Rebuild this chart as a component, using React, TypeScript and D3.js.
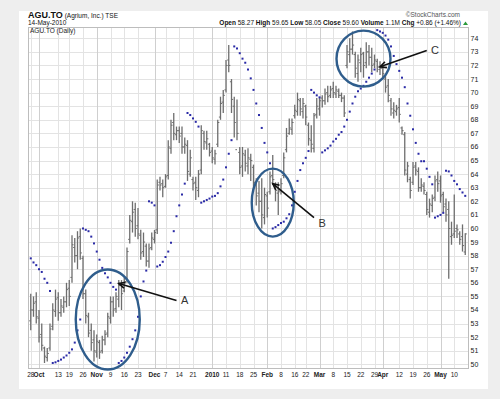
import * as d3 from "d3";

// trading calendar (TSX), Sep 28 2009 .. May 14 2010
const HOLIDAYS = ["2009-10-12", "2009-12-25", "2009-12-28", "2010-01-01", "2010-02-15", "2010-04-02"];
const fmtDay = d3.utcFormat("%Y-%m-%d");
const DAYS: string[] = d3.utcDay
  .range(new Date(Date.UTC(2009, 8, 28)), new Date(Date.UTC(2010, 4, 15)))
  .filter((d) => d.getUTCDay() !== 0 && d.getUTCDay() !== 6)
  .map(fmtDay)
  .filter((s) => !HOLIDAYS.includes(s));

const OPEN = [
  53.2, 54.0, 54.6, 53.4, 52.2, 51.2, 50.5, 51.2, 52.8, 53.9, 54.9, 53.8, 54.2, 54.6, 55.6, 56.4, 58.6, 58.0, 59.4, 57.8,
  55.2, 53.5, 52.5, 51.8, 50.9, 51.6, 51.0, 51.8, 52.3, 53.4, 54.6, 54.1, 54.8, 55.9, 55.4, 56.3, 59.2, 60.5, 61.4, 60.2,
  59.5, 58.3, 58.7, 57.6, 58.6, 59.2, 59.9, 63.4, 63.3, 63.1, 63.9, 65.9, 67.8, 66.9, 67.2, 67.0, 66.0, 66.1, 64.0, 63.6,
  63.4, 62.8, 64.3, 67.0, 66.3, 66.2, 65.7, 65.1, 66.2, 68.2, 69.3, 70.2, 72.4, 70.8, 69.0, 65.8, 65.6, 64.6, 65.4, 64.6,
  65.1, 64.5, 63.4, 62.6, 62.0, 60.8, 62.4, 62.7, 63.9, 63.2, 62.6, 62.8, 63.9, 65.8, 67.0, 67.3, 68.3, 68.6, 69.4, 68.6,
  69.0, 67.6, 66.5, 65.9, 68.4, 68.8, 69.6, 69.4, 70.0, 69.8, 70.3, 69.9, 70.1, 69.8, 69.6, 72.0, 72.8, 73.2, 72.8, 71.4,
  72.2, 72.9, 72.2, 73.0, 72.6, 72.1, 72.3, 71.7, 71.8, 71.0, 70.5, 69.4, 68.5, 68.6, 68.9, 67.4, 66.9, 64.0, 63.6, 63.4,
  64.6, 64.2, 63.0, 63.1, 62.5, 61.2, 61.7, 62.3, 63.6, 63.5, 62.5, 61.8, 61.4, 59.4, 59.6, 60.0, 59.6, 59.4, 58.27,
];
const HIGH = [
  55.2, 55.0, 55.3, 54.0, 53.0, 51.3, 51.2, 53.0, 54.5, 55.5, 55.3, 54.8, 55.0, 56.0, 56.2, 59.5, 59.3, 59.8, 60.0, 58.0,
  55.5, 53.8, 53.0, 52.5, 52.2, 51.8, 52.1, 52.5, 53.8, 55.0, 55.0, 55.3, 56.2, 56.2, 56.4, 58.6, 61.0, 62.0, 61.9, 61.5,
  59.9, 59.7, 58.9, 58.9, 59.7, 59.9, 63.6, 63.8, 63.6, 64.0, 66.5, 68.0, 68.5, 67.5, 67.5, 67.5, 66.7, 66.5, 65.8, 63.8,
  63.8, 64.3, 67.6, 67.2, 67.2, 66.3, 66.0, 65.8, 68.0, 69.7, 70.2, 72.4, 73.5, 71.0, 69.7, 69.5, 66.0, 66.0, 65.8, 65.9,
  65.5, 64.7, 63.7, 63.5, 63.7, 63.0, 62.7, 64.2, 65.4, 63.4, 63.4, 63.7, 65.6, 67.4, 68.1, 68.1, 69.1, 70.0, 69.6, 69.6,
  69.1, 67.8, 67.6, 68.5, 69.6, 69.6, 69.8, 70.3, 70.5, 70.5, 70.8, 70.5, 70.3, 70.0, 69.8, 73.5, 74.0, 74.5, 73.0, 72.8,
  73.3, 73.0, 73.7, 73.5, 73.3, 72.8, 72.5, 72.3, 72.0, 71.3, 71.0, 69.6, 69.3, 69.1, 69.6, 67.5, 67.1, 64.9, 63.8, 64.9,
  64.9, 64.5, 63.7, 63.4, 62.7, 62.2, 62.5, 63.9, 64.2, 63.9, 62.7, 62.2, 62.0, 60.5, 62.5, 60.3, 59.8, 60.3, 59.65,
];
const LOW = [
  52.5, 53.5, 53.0, 51.6, 51.0, 50.1, 50.2, 51.0, 52.5, 53.5, 53.2, 53.5, 53.8, 54.2, 54.3, 56.0, 57.5, 57.0, 57.7, 54.8,
  53.0, 52.0, 51.0, 50.2, 50.5, 50.4, 50.8, 51.4, 52.0, 53.0, 53.5, 53.8, 54.2, 54.0, 55.3, 56.0, 58.9, 59.7, 59.4, 59.2,
  57.7, 57.9, 57.2, 57.1, 58.4, 58.9, 59.6, 62.8, 62.3, 63.0, 63.6, 65.5, 66.5, 66.5, 66.3, 65.5, 65.5, 63.5, 63.8, 62.8,
  62.1, 62.3, 64.0, 65.8, 65.8, 65.3, 64.8, 64.7, 66.0, 68.0, 68.5, 70.0, 71.5, 68.5, 66.7, 66.5, 64.0, 63.8, 64.2, 64.0,
  63.5, 62.7, 61.7, 61.2, 60.0, 60.3, 60.8, 62.5, 63.2, 62.0, 61.0, 62.5, 63.7, 65.6, 66.9, 66.9, 68.1, 68.3, 68.3, 68.1,
  67.6, 66.1, 65.6, 65.6, 68.1, 68.3, 68.9, 69.1, 69.3, 69.6, 69.6, 69.6, 69.6, 69.3, 68.2, 71.8, 72.2, 72.8, 71.1, 70.8,
  71.5, 71.1, 71.8, 72.0, 71.5, 71.8, 71.5, 71.3, 71.1, 70.0, 69.3, 68.3, 68.1, 68.3, 67.8, 66.9, 63.9, 63.4, 62.2, 63.2,
  63.9, 62.7, 62.7, 62.5, 61.0, 60.8, 61.2, 62.0, 62.7, 61.9, 61.2, 60.5, 56.3, 58.8, 59.3, 59.3, 58.8, 58.3, 58.05,
];
const CLOSE = [
  54.0, 54.5, 53.5, 52.0, 51.4, 50.6, 50.8, 52.6, 54.0, 54.8, 53.8, 54.3, 54.6, 55.5, 55.0, 58.8, 58.0, 59.3, 58.2, 55.2,
  53.6, 52.3, 51.6, 51.0, 51.7, 50.9, 51.8, 52.2, 53.5, 54.6, 54.0, 55.0, 55.8, 55.2, 56.1, 58.3, 60.6, 61.2, 60.0, 59.6,
  58.2, 59.0, 57.6, 58.5, 59.3, 59.7, 63.2, 63.2, 63.0, 63.8, 66.0, 67.6, 67.0, 67.2, 66.8, 66.0, 66.2, 64.2, 65.2, 63.3,
  63.0, 64.0, 67.2, 66.4, 66.6, 65.6, 65.2, 65.5, 67.8, 69.2, 69.8, 72.0, 72.0, 69.5, 67.8, 67.0, 64.5, 65.5, 64.8, 65.2,
  65.0, 63.4, 62.4, 62.0, 61.0, 62.5, 61.5, 63.8, 63.6, 62.8, 62.7, 63.3, 65.2, 66.8, 67.4, 67.8, 68.7, 69.5, 68.8, 69.2,
  68.2, 66.6, 66.2, 68.3, 69.0, 69.4, 69.4, 69.9, 69.7, 70.2, 70.0, 70.2, 69.8, 69.6, 68.5, 73.0, 73.2, 73.5, 71.8, 72.4,
  72.8, 72.0, 73.0, 72.6, 72.0, 72.4, 71.9, 71.8, 71.4, 70.4, 69.8, 68.8, 68.7, 68.8, 68.4, 67.2, 64.3, 64.6, 62.8, 64.5,
  64.3, 63.0, 63.2, 62.8, 61.4, 61.8, 62.2, 63.5, 63.3, 62.4, 61.6, 61.0, 60.0, 59.5, 59.8, 59.9, 59.2, 58.74, 59.6,
];
// parabolic SAR dots
const SAR = [
  57.8, 57.5, 57.3, 57.0, 56.8, 56.3, 56.0, 55.4, 50.1, 50.15, 50.25, 50.35, 50.5, 50.65, 50.85, 51.1, 51.6, 52.5, 53.3, 60.0,
  59.9, 59.8, 59.4, 58.9, 58.3, 57.7, 57.1, 56.7, 56.4, 56.0, 55.7, 55.5, 50.1, 50.25, 50.5, 50.85, 51.3, 51.85, 52.5, 53.5,
  55.0, 56.1, 56.9, 62.0, 61.9, 61.7, 57.2, 57.3, 57.55, 57.9, 58.3, 58.95, 59.8, 60.9, 61.7, 62.5, 63.3, 68.5, 68.35, 68.1,
  67.85, 67.5, 61.9, 62.0, 62.1, 62.2, 62.35, 62.4, 62.6, 63.1, 63.6, 64.5, 65.5, 66.5, 73.4, 73.25, 72.9, 72.5, 72.2, 71.7,
  71.05, 70.2, 69.2, 68.35, 67.4, 66.3, 65.6, 64.8, 60.0, 60.1, 60.25, 60.4, 60.5, 60.75, 61.05, 61.7, 62.7, 63.5, 64.3, 64.8,
  65.2, 65.7, 70.2, 70.0, 69.8, 69.65, 65.6, 65.75, 65.9, 66.1, 66.4, 66.6, 66.9, 67.1, 67.5, 68.0, 68.6, 69.2, 69.7, 70.1,
  70.3, 70.5, 70.8, 71.1, 71.4, 71.7, 74.6, 74.5, 74.4, 74.2, 73.9, 73.4, 72.7, 72.1, 71.6, 71.1, 70.4, 69.2, 68.3, 67.3,
  66.3, 65.5, 64.95, 64.95, 64.4, 63.8, 63.25, 60.8, 60.9, 61.0, 61.15, 64.25, 64.2, 63.9, 63.5, 63.25, 62.9, 62.65, 62.4,
];

const PRICE_TICKS = d3.range(50, 75);
const DATE_TICKS = [
  { day: "2009-09-28", label: "28", month: false },
  { day: "2009-10-01", label: "Oct", month: true },
  { day: "2009-10-13", label: "13", month: false },
  { day: "2009-10-19", label: "19", month: false },
  { day: "2009-10-26", label: "26", month: false },
  { day: "2009-11-02", label: "Nov", month: true },
  { day: "2009-11-09", label: "9", month: false },
  { day: "2009-11-16", label: "16", month: false },
  { day: "2009-11-23", label: "23", month: false },
  { day: "2009-12-01", label: "Dec", month: true },
  { day: "2009-12-07", label: "7", month: false },
  { day: "2009-12-14", label: "14", month: false },
  { day: "2009-12-21", label: "21", month: false },
  { day: "2010-01-04", label: "2010", month: true },
  { day: "2010-01-11", label: "11", month: false },
  { day: "2010-01-18", label: "18", month: false },
  { day: "2010-01-25", label: "25", month: false },
  { day: "2010-02-01", label: "Feb", month: true },
  { day: "2010-02-08", label: "8", month: false },
  { day: "2010-02-16", label: "16", month: false },
  { day: "2010-02-22", label: "22", month: false },
  { day: "2010-03-01", label: "Mar", month: true },
  { day: "2010-03-08", label: "8", month: false },
  { day: "2010-03-15", label: "15", month: false },
  { day: "2010-03-22", label: "22", month: false },
  { day: "2010-03-29", label: "29", month: false },
  { day: "2010-04-01", label: "Apr", month: true },
  { day: "2010-04-12", label: "12", month: false },
  { day: "2010-04-19", label: "19", month: false },
  { day: "2010-04-26", label: "26", month: false },
  { day: "2010-05-03", label: "May", month: true },
  { day: "2010-05-10", label: "10", month: false },
];

// hand drawn marks on the chart: circles, arrows and letters
const CIRCLES = [
  { day: "2009-11-06", price: 53.3, rx: 32, ry: 50 },
  { day: "2010-02-03", price: 61.9, rx: 21, ry: 34 },
  { day: "2010-03-23", price: 72.5, rx: 27, ry: 28 },
];
const ARROWS = [
  { from: ["2009-12-11", 54.7], to: ["2009-11-12", 55.95], label: "A", at: ["2009-12-16", 54.7] },
  { from: ["2010-02-25", 60.8], to: ["2010-02-03", 63.3], label: "B", at: ["2010-03-02", 60.4] },
  { from: ["2010-04-26", 73.1], to: ["2010-03-31", 71.9], label: "C", at: ["2010-04-29", 73.15] },
];

const FONT = "'Liberation Sans', Arial, sans-serif";
const W = 500;
const H = 399;
const plot = { left: 28, right: 468, top: 27, bottom: 368 };

export default function App() {
  const x = d3.scalePoint<string>().domain(DAYS).range([plot.left, plot.right]).padding(1);
  const y = d3.scaleLinear().domain([49.73, 74.83]).range([plot.bottom, plot.top]);

  const bars = DAYS.map((d, i) => ({ d, o: OPEN[i], h: HIGH[i], l: LOW[i], c: CLOSE[i], s: SAR[i] }));

  return (
    <div style={{ position: "fixed", left: 0, top: 0, width: W, height: H }}>
      <svg width={W} height={H} style={{ display: "block", fontFamily: FONT }}>
        <rect width={W} height={H} fill="#eeeeee" />
        <rect x={19} y={11} width={469} height={378} fill="#ffffff" />

        {/* grid */}
        <g>
          {PRICE_TICKS.map((v) => (
            <line key={v} x1={plot.left} x2={plot.right} y1={Math.round(y(v)) + 0.5} y2={Math.round(y(v)) + 0.5} stroke="#e3e3e3" />
          ))}
          {DATE_TICKS.map((t) => (
            <line
              key={t.day}
              x1={Math.round(x(t.day)!) + 0.5}
              x2={Math.round(x(t.day)!) + 0.5}
              y1={plot.top}
              y2={plot.bottom}
              stroke={t.month ? "#cfcfcf" : "#e3e3e3"}
            />
          ))}
          <rect x={plot.left + 0.5} y={plot.top + 0.5} width={plot.right - plot.left} height={plot.bottom - plot.top} fill="none" stroke="#bdbdbd" />
        </g>

        {/* OHLC bars */}
        <g stroke="#6e6e6e" strokeWidth={1.3}>
          {bars.map((b) => {
            const cx = x(b.d)!;
            return (
              <g key={b.d}>
                <line x1={cx} x2={cx} y1={y(b.h)} y2={y(b.l)} />
                <line x1={cx - 1.6} x2={cx} y1={y(b.o)} y2={y(b.o)} strokeWidth={1} />
                <line x1={cx} x2={cx + 1.6} y1={y(b.c)} y2={y(b.c)} strokeWidth={1} />
              </g>
            );
          })}
        </g>

        {/* parabolic SAR */}
        <g fill="#2a2aa6">
          {bars.map((b) => (
            <rect key={b.d} x={x(b.d)! - 1} y={y(b.s) - 1} width={2} height={2} />
          ))}
        </g>

        {/* annotations */}
        <g fill="none" stroke="#2f5d8c" strokeWidth={2.4}>
          {CIRCLES.map((c) => (
            <ellipse key={c.day} cx={x(c.day)} cy={y(c.price)} rx={c.rx} ry={c.ry} />
          ))}
        </g>
        <g stroke="#111" strokeWidth={1.6} fill="none">
          {ARROWS.map((a) => {
            const x1 = x(a.from[0] as string)!;
            const y1 = y(a.from[1] as number);
            const x2 = x(a.to[0] as string)!;
            const y2 = y(a.to[1] as number);
            const ang = Math.atan2(y2 - y1, x2 - x1);
            const hl = 7;
            const p1 = [x2 - hl * Math.cos(ang - 0.45), y2 - hl * Math.sin(ang - 0.45)];
            const p2 = [x2 - hl * Math.cos(ang + 0.45), y2 - hl * Math.sin(ang + 0.45)];
            return (
              <g key={a.label}>
                <line x1={x1} y1={y1} x2={x2} y2={y2} />
                <path d={`M${p1[0]},${p1[1]} L${x2},${y2} L${p2[0]},${p2[1]}`} />
                <text
                  x={x(a.at[0] as string)}
                  y={y(a.at[1] as number) + 4}
                  stroke="none"
                  fill="#333"
                  fontSize={11}
                  textAnchor="middle"
                >
                  {a.label}
                </text>
              </g>
            );
          })}
        </g>

        {/* right price axis */}
        <g fontSize={7} fill="#222">
          {PRICE_TICKS.map((v) => (
            <text key={v} x={plot.right + 2.5} y={y(v) + 2.5}>
              {v}
            </text>
          ))}
        </g>

        {/* date axis */}
        <g fontSize={6.5} fill="#222" textAnchor="middle">
          {DATE_TICKS.map((t) => (
            <text key={t.day} x={x(t.day)} y={377} fontWeight={t.month ? "bold" : "normal"}>
              {t.label}
            </text>
          ))}
        </g>

        {/* header */}
        <text x={28} y={18} fill="#111">
          <tspan fontSize={9} fontWeight="bold">AGU.TO</tspan>
          <tspan fontSize={6.5}> (Agrium, Inc.) TSE</tspan>
        </text>
        <text x={28} y={25} fontSize={6.5} fill="#111">14-May-2010</text>
        <text x={460} y={17} fontSize={6.5} fill="#555" textAnchor="end">©StockCharts.com</text>
        <text x={461} y={25} fontSize={6.5} fill="#111" textAnchor="end">
          <tspan fontWeight="bold">Open</tspan> 58.27 <tspan fontWeight="bold">High</tspan> 59.65{" "}
          <tspan fontWeight="bold">Low</tspan> 58.05 <tspan fontWeight="bold">Close</tspan> 59.60{" "}
          <tspan fontWeight="bold">Volume</tspan> 1.1M <tspan fontWeight="bold">Chg</tspan> +0.86 (+1.46%)
        </text>
        <path d="M463,25 L465.5,21.5 L468,25 Z" fill="#2a9a3a" />
        <text x={30} y={33} fontSize={6.5} fill="#222">AGU.TO (Daily)</text>
      </svg>
    </div>
  );
}
